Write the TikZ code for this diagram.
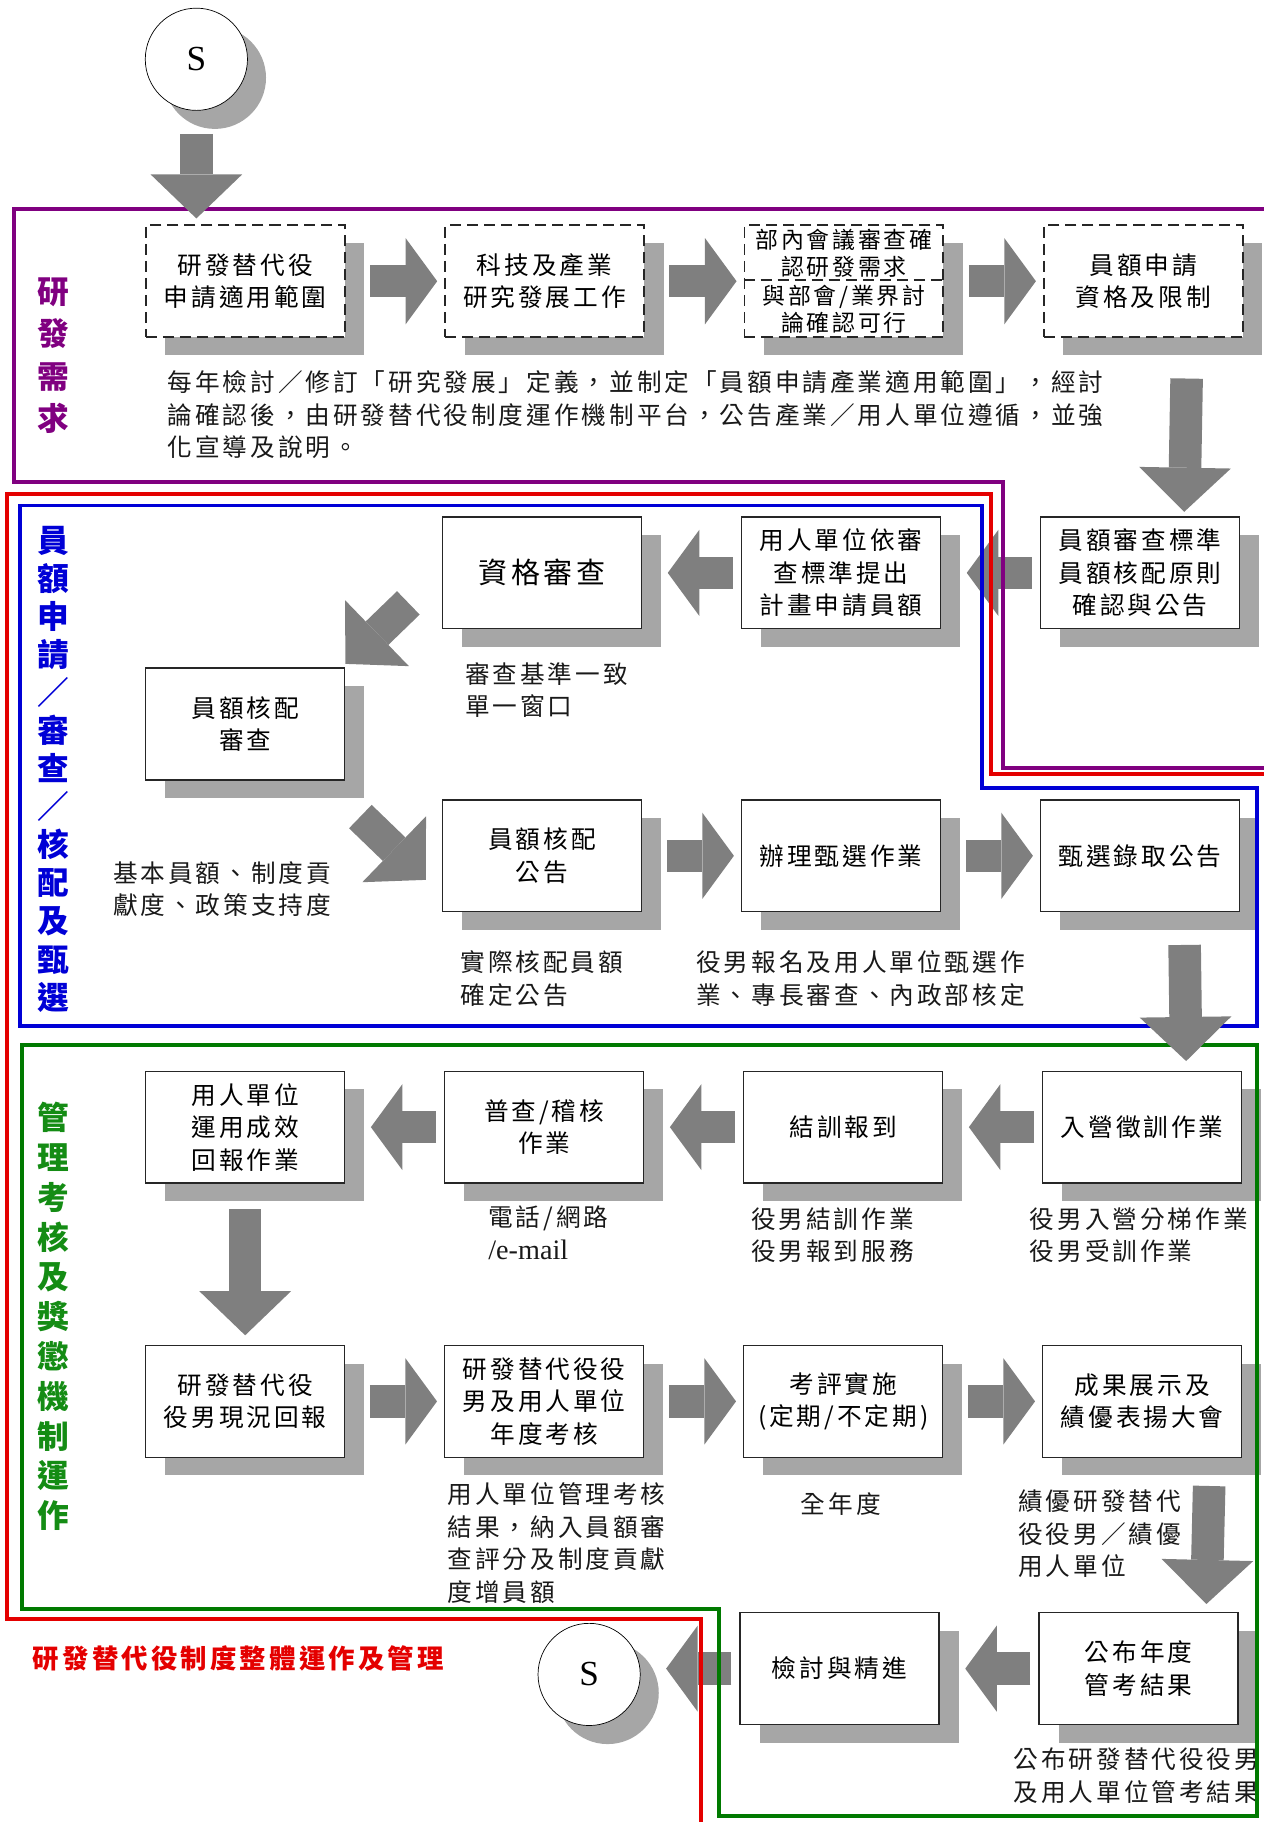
\documentclass[tikz,border=0pt]{standalone}
\usepackage{fontspec}
\setmainfont{Liberation Serif}
\newfontfamily\cjk[LetterSpace=12]{Noto Sans CJK TC}
\usetikzlibrary{positioning}
\usetikzlibrary{calc}
\usetikzlibrary{shadows}
\usetikzlibrary{arrows.meta}
\definecolor{arrowgray}{RGB}{127,127,127}
\definecolor{shadowgray}{RGB}{166,166,166}
\definecolor{regionpurple}{RGB}{128,0,128}
\definecolor{regionred}{RGB}{228,0,0}
\definecolor{regionblue}{RGB}{0,0,214}
\definecolor{regiongreen}{RGB}{0,122,0}
\definecolor{titlegreen}{RGB}{20,140,20}

\begin{document}
\begin{tikzpicture}[x=0.0232cm, y=-0.0232cm,
				internal/.style={draw=black!85, line width=0.8pt, rectangle, fill=white, minimum width=3.97cm, minimum height=2.23cm, inner sep=2pt, font=\cjk\fontsize{14}{18.5}\selectfont, drop shadow={shadow xshift=0.39cm, shadow yshift=-0.36cm, fill=shadowgray, opacity=1}},
				dashedbox/.style={internal, line width=1pt, dash pattern=on 0.22cm off 0.12cm},
				startend/.style={draw, circle, fill=white, minimum size=2.04cm, inner sep=0pt, font=\fontsize{20}{24}\selectfont, drop shadow={shadow xshift=0.37cm, shadow yshift=-0.37cm, fill=shadowgray, opacity=1}},
				note/.style={anchor=west, inner sep=0pt, text=black!90, every text node part/.style={align=left}, font=\cjk\fontsize{14}{18.5}\selectfont},
				title/.style={inner sep=0pt, font=\cjk\bfseries\fontsize{18}{24}\selectfont},
				region/.style={line width=2.2pt},
				blockline/.style={draw=arrowgray, line width=0.65cm},
				rarrow/.style={blockline, -{Triangle[width=1.72cm, length=0.63cm, line width=0pt]}, shorten <=0.49cm, shorten >=0.14cm},
				larrow/.style={blockline, -{Triangle[width=1.72cm, length=0.63cm, line width=0pt]}, shorten <=0.16cm, shorten >=0.51cm},
				varrow/.style={blockline, -{Triangle[width=1.83cm, length=0.88cm, line width=0pt]}},
				every text node part/.style={align=center}]
				\useasboundingbox (0,0) rectangle (1087,1568);

				% boxes
				\node[startend](node0) at (169,51) {S};
				\node[dashedbox](node11) at (211,242) {研發替代役\\申請適用範圍};
				\node[dashedbox, right=1.97cm of node11](node12) {科技及產業\\研究發展工作};
				\node[dashedbox, right=1.97cm of node12](node13) {};
				\node[inner sep=0pt, font=\cjk\fontsize{13}{15.5}\selectfont](node131) at ($(node13.north)!0.255!(node13.south)$) {部內會議審查確\\認研發需求};
				\node[inner sep=0pt, font=\cjk\fontsize{13}{15.5}\selectfont](node132) at ($(node13.north)!0.75!(node13.south)$) {與部會/業界討\\論確認可行};
				\draw[black!85, line width=1pt, dash pattern=on 0.22cm off 0.12cm] ($(node13.north west)!0.49!(node13.south west)$) -- ($(node13.north east)!0.49!(node13.south east)$);
				\node[dashedbox, right=1.97cm of node13](node14) {員額申請\\資格及限制};

				\node[internal, font=\cjk\fontsize{16.5}{20}\selectfont](node21) at (466.5,493) {資格審查};
				\node[internal, right=1.97cm of node21](node22) {用人單位依審\\查標準提出\\計畫申請員額};
				\node[internal, right=1.97cm of node22](node23) {員額審查標準\\員額核配原則\\確認與公告};
				\node[internal](node31) at (211,623) {員額核配\\審查};
				\node[internal](node41) at (466.5,736.5) {員額核配\\公告};
				\node[internal, right=1.97cm of node41](node42) {辦理甄選作業};
				\node[internal, right=1.97cm of node42](node43) {甄選錄取公告};

				\node[internal](node51) at (211,970) {用人單位\\運用成效\\回報作業};
				\node[internal, right=1.97cm of node51](node52) {普查/稽核\\作業};
				\node[internal, right=1.97cm of node52](node53) {結訓報到};
				\node[internal, right=1.97cm of node53](node54) {入營徵訓作業};
				\node[internal](node61) at (211,1206) {研發替代役\\役男現況回報};
				\node[internal, right=1.97cm of node61](node62) {研發替代役役\\男及用人單位\\年度考核};
				\node[internal, right=1.97cm of node62](node63) {考評實施\\(定期/不定期)};
				\node[internal, right=1.97cm of node63](node64) {成果展示及\\績優表揚大會};
				\node[startend](node71) at (507,1441) {S};
				\node[internal](node72) at (722.5,1436) {檢討與精進};
				\node[internal, right=1.97cm of node72](node73) {公布年度\\管考結果};

				% notes
				\node[note](note1) at (144,357) {每年檢討／修訂「研究發展」定義，並制定「員額申請產業適用範圍」，經討\\論確認後，由研發替代役制度運作機制平台，公告產業／用人單位遵循，並強\\化宣導及說明。};
				\node[note](note2) at (400,594) {審查基準一致\\單一窗口};
				\node[note](note3) at (97,765) {基本員額、制度貢\\獻度、政策支持度};
				\node[note](note4) at (396,842) {實際核配員額\\確定公告};
				\node[note](note5) at (599,842) {役男報名及用人單位甄選作\\業、專長審查、內政部核定};
				\node[note](note6) at (420,1061) {電話/網路\\{\rmfamily\fontsize{16}{18.5}\selectfont /e-mail}};
				\node[note](note7) at (646,1063) {役男結訓作業\\役男報到服務};
				\node[note](note8) at (886,1063) {役男入營分梯作業\\役男受訓作業};
				\node[note](note9) at (385,1328) {用人單位管理考核\\結果，納入員額審\\查評分及制度貢獻\\度增員額};
				\node[note](note10) at (689,1294) {全年度};
				\node[note](note11) at (876,1320) {績優研發替代\\役役男／績優\\用人單位};
				\node[note, anchor=east](note12) at (1084,1528) {公布研發替代役役男\\及用人單位管考結果};

				% titles
				\node[title, text=regionpurple](title1) at (46,306) {研\\發\\需\\求};
				\node[title, text=regionblue, font=\cjk\bfseries\fontsize{18}{21.6}\selectfont](title2) at (46,662) {員\\額\\申\\請\\／\\審\\查\\／\\核\\配\\及\\甄\\選};
				\node[title, text=titlegreen, font=\cjk\bfseries\fontsize{18}{22.6}\selectfont](title3) at (46,1133) {管\\理\\考\\核\\及\\獎\\懲\\機\\制\\運\\作};
				\node[title, anchor=west, text=regionred, font=\cjk\bfseries\fontsize{15}{18}\selectfont](title4) at (28,1427) {研發替代役制度整體運作及管理};

				% arrows under the region lines
				\draw [larrow] (node23) -- (node22);
				\draw [larrow] (node72.west) -- (node72.west -| node71.east);

				% regions
				\draw [region, regionpurple] (1095,180) -- (12,180) -- (12,415) -- (863,415) -- (863,661) -- (1095,661);
				\draw [region, regionred] (1095,666) -- (853,666) -- (853,425) -- (6,425) -- (6,1393) -- (603,1393) -- (603,1575);
				\draw [region, regionblue] (17,435) -- (845,435) -- (845,678) -- (1082,678) -- (1082,883) -- (17,883) -- cycle;
				\draw [region, regiongreen] (19,899) -- (1082,899) -- (1082,1563) -- (619,1563) -- (619,1385) -- (19,1385) -- cycle;

				% arrows
				\draw [varrow, shorten <=0.46cm, shorten >=0.12cm] (node0.south) -- (node0.south |- node11.north);
				\draw [rarrow] (node11) -- (node12);
				\draw [rarrow] (node12) -- (node13);
				\draw [rarrow] (node13) -- (node14);
				\draw [varrow, shorten <=0.81cm, shorten >=0.09cm] ([xshift=0.88cm]node14.south) -- ([xshift=0.88cm]node23.north);
				\draw [larrow] (node22) -- (node21);
				\draw [varrow] ([shift={(-0.67cm,0.53cm)}]node21.south west) -- ([shift={(0cm,0.07cm)}]node31.north east);
				\draw [varrow] ([shift={(0.30cm,-0.72cm)}]node31.south east) -- ([shift={(-0.32cm,-0.48cm)}]node41.west);
				\draw [rarrow] (node41) -- (node42);
				\draw [rarrow] (node42) -- (node43);
				\draw [varrow, shorten <=0.65cm, shorten >=0.19cm] ([xshift=0.88cm]node43.south) -- ([xshift=0.88cm]node54.north);
				\draw [larrow] (node54) -- (node53);
				\draw [larrow] (node53) -- (node52);
				\draw [larrow] (node52) -- (node51);
				\draw [varrow, shorten <=0.51cm, shorten >=0.19cm] (node51) -- (node61);
				\draw [rarrow] (node61) -- (node62);
				\draw [rarrow] (node62) -- (node63);
				\draw [rarrow] (node63) -- (node64);
				\draw [varrow, shorten <=0.56cm, shorten >=0.16cm] ([xshift=1.35cm]node64.south) -- ([xshift=1.35cm]node73.north);
				\draw [larrow] (node73) -- (node72);
			\end{tikzpicture}
\end{document}
